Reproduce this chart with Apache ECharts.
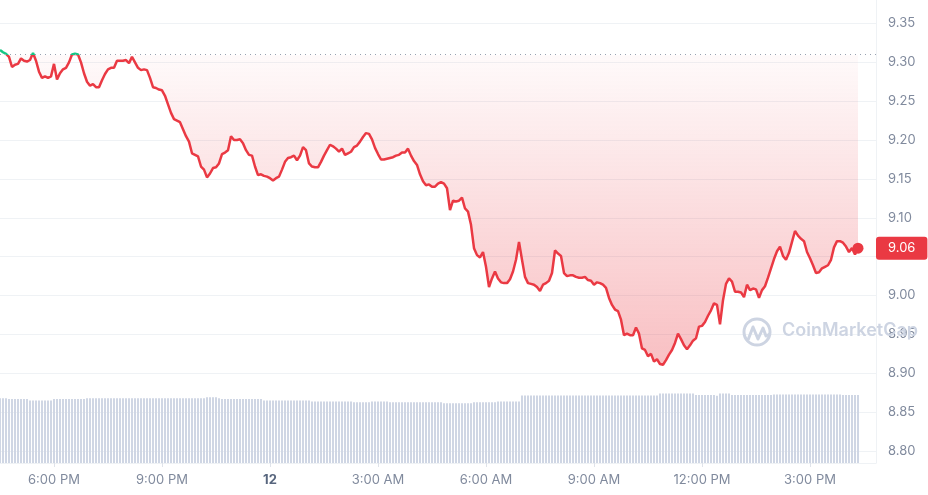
<!DOCTYPE html>
<html>
<head>
<meta charset="utf-8">
<title>24h price</title>
<script src="https://cdn.jsdelivr.net/npm/echarts@6/dist/echarts.min.js"></script>
<style>
  html, body { margin: 0; padding: 0; background: #fff; }
  #chart { width: 928px; height: 495px; }
</style>
</head>
<body>
<div id="chart"></div>
<script>
// price at open, the dotted reference line
const openPrice = 9.3095

// 5 minute closes, 16:30 -> 16:20 next day
const prices = [
  9.316, 9.313, 9.311, 9.307, 9.294, 9.297, 9.298, 9.305, 9.302, 9.301,
  9.303, 9.312, 9.302, 9.288, 9.280, 9.282, 9.280, 9.282, 9.298, 9.278,
  9.286, 9.291, 9.293, 9.300, 9.310, 9.311, 9.310, 9.300, 9.286, 9.275,
  9.270, 9.272, 9.268, 9.268, 9.277, 9.285, 9.291, 9.293, 9.293, 9.302,
  9.302, 9.302, 9.303, 9.299, 9.307, 9.300, 9.293, 9.290, 9.291, 9.290,
  9.280, 9.268, 9.267, 9.265, 9.264, 9.257, 9.246, 9.235, 9.227, 9.225,
  9.223, 9.214, 9.205, 9.198, 9.183, 9.181, 9.179, 9.166, 9.162, 9.152,
  9.157, 9.164, 9.165, 9.170, 9.182, 9.184, 9.187, 9.205, 9.200, 9.200,
  9.201, 9.196, 9.187, 9.181, 9.180, 9.166, 9.155, 9.156, 9.154, 9.153,
  9.151, 9.148, 9.151, 9.153, 9.162, 9.172, 9.177, 9.178, 9.180, 9.174,
  9.180, 9.191, 9.187, 9.170, 9.166, 9.165, 9.165, 9.172, 9.180, 9.187,
  9.194, 9.192, 9.189, 9.185, 9.189, 9.181, 9.183, 9.185, 9.191, 9.193,
  9.198, 9.204, 9.209, 9.208, 9.201, 9.190, 9.182, 9.175, 9.175, 9.176,
  9.177, 9.178, 9.180, 9.181, 9.184, 9.184, 9.189, 9.180, 9.173, 9.168,
  9.156, 9.147, 9.142, 9.143, 9.140, 9.140, 9.144, 9.146, 9.144, 9.138,
  9.110, 9.122, 9.121, 9.122, 9.126, 9.112, 9.108, 9.091, 9.061, 9.052,
  9.049, 9.056, 9.037, 9.011, 9.022, 9.031, 9.022, 9.017, 9.016, 9.016,
  9.021, 9.031, 9.046, 9.069, 9.046, 9.024, 9.016, 9.015, 9.014, 9.011,
  9.006, 9.014, 9.016, 9.019, 9.029, 9.058, 9.054, 9.051, 9.029, 9.025,
  9.026, 9.026, 9.024, 9.023, 9.023, 9.024, 9.020, 9.019, 9.014, 9.017,
  9.016, 9.014, 9.010, 8.997, 8.988, 8.982, 8.980, 8.969, 8.949, 8.951,
  8.949, 8.949, 8.959, 8.951, 8.932, 8.930, 8.922, 8.925, 8.915, 8.918,
  8.912, 8.911, 8.917, 8.924, 8.930, 8.939, 8.951, 8.944, 8.936, 8.931,
  8.936, 8.942, 8.945, 8.960, 8.961, 8.966, 8.974, 8.981, 8.990, 8.988,
  8.963, 8.994, 9.015, 9.022, 9.018, 9.005, 9.005, 9.004, 8.998, 9.014,
  9.007, 9.009, 9.008, 8.997, 9.007, 9.012, 9.023, 9.035, 9.047, 9.057,
  9.063, 9.051, 9.046, 9.055, 9.069, 9.083, 9.077, 9.073, 9.070, 9.056,
  9.048, 9.039, 9.029, 9.030, 9.035, 9.037, 9.039, 9.046, 9.062, 9.070,
  9.070, 9.068, 9.063, 9.056, 9.061, 9.053, 9.061
]

// 24h volume (M), same 5 minute slots
const volumes = [
  140, 140, 140, 138, 138, 138, 138, 138, 138, 138,
  135, 135, 135, 135, 135, 135, 135, 135, 138, 138,
  138, 138, 138, 138, 138, 138, 138, 138, 138, 140,
  140, 140, 140, 140, 140, 140, 140, 140, 140, 140,
  140, 140, 140, 140, 140, 140, 140, 140, 140, 140,
  140, 140, 140, 140, 140, 140, 140, 140, 140, 140,
  140, 140, 140, 140, 140, 140, 140, 140, 140, 142,
  142, 142, 142, 140, 138, 138, 138, 138, 138, 138,
  138, 138, 138, 138, 138, 138, 138, 138, 135, 135,
  135, 135, 135, 135, 135, 135, 135, 135, 135, 135,
  135, 135, 135, 135, 133, 133, 133, 133, 133, 133,
  133, 133, 133, 133, 133, 133, 133, 133, 131, 131,
  131, 131, 131, 131, 133, 133, 133, 133, 133, 133,
  131, 131, 131, 131, 131, 131, 131, 131, 131, 131,
  131, 131, 131, 131, 131, 131, 131, 131, 129, 129,
  129, 129, 129, 129, 129, 129, 129, 129, 131, 131,
  131, 131, 131, 131, 131, 131, 133, 133, 133, 133,
  133, 133, 133, 133, 146, 146, 146, 146, 146, 146,
  146, 146, 146, 146, 146, 146, 146, 146, 146, 146,
  146, 146, 146, 146, 146, 146, 146, 146, 146, 146,
  146, 146, 146, 146, 146, 146, 146, 146, 146, 146,
  146, 146, 146, 146, 146, 146, 146, 146, 146, 146,
  150, 150, 150, 150, 150, 150, 150, 150, 150, 150,
  150, 150, 147, 147, 147, 147, 147, 147, 147, 145,
  150, 150, 150, 150, 147, 147, 147, 147, 147, 147,
  147, 147, 147, 147, 147, 147, 147, 147, 148, 148,
  148, 148, 148, 148, 148, 148, 148, 148, 148, 148,
  148, 148, 148, 148, 148, 148, 148, 148, 148, 148,
  148, 147, 147, 147, 147, 147, 147
]

const tickTimes = ['18:00', '21:00', '00:00', '03:00', '06:00', '09:00', '12:00', '15:00']
const tickLabels = ['6:00 PM', '9:00 PM', '12', '3:00 AM', '6:00 AM', '9:00 AM', '12:00 PM', '3:00 PM']

// x slots: 16:30 day one up to 16:50 day two
const categories = []
const start = new Date(2024, 5, 11, 16, 30)
for (let i = 0; i <= 292; i++) {
  const d = new Date(start.getTime() + i * 5 * 60000)
  const hh = String(d.getHours()).padStart(2, '0')
  const mm = String(d.getMinutes()).padStart(2, '0')
  categories.push(d.getDate() + ' ' + hh + ':' + mm)
}

const isTick = (idx, val) => tickTimes.indexOf(val.slice(-5)) >= 0
const lastIdx = prices.length - 1
const lastPrice = prices[lastIdx]
const red = '#ea3943'
const green = '#16c784'
const font = 'Inter, sans-serif'

const chart = echarts.init(document.getElementById('chart'))
chart.setOption({
  animation: false,
  grid: { left: 0, right: 52, top: 0, bottom: 32 },
  xAxis: {
    type: 'category',
    data: categories,
    boundaryGap: false,
    axisLine: { show: true, lineStyle: { color: '#eff2f5' } },
    axisTick: { show: true, interval: isTick, length: 4, lineStyle: { color: '#dfe3ea' } },
    splitLine: { show: false },
    axisLabel: {
      interval: isTick,
      margin: 11,
      color: '#808a9d',
      fontSize: 13,
      fontFamily: font,
      formatter: val => {
        const t = tickLabels[tickTimes.indexOf(val.slice(-5))]
        return t === '12' ? '{b|12}' : t
      },
      rich: {
        b: { fontWeight: 'bold', color: '#58667e', fontSize: 13, fontFamily: font }
      }
    }
  },
  yAxis: [{
    type: 'value',
    position: 'right',
    min: 8.7846,
    max: 9.3802,
    splitNumber: 12,
    minInterval: 0.05,
    maxInterval: 0.05,
    axisLine: { show: true, lineStyle: { color: '#eff2f5' } },
    axisTick: { show: false },
    splitLine: { show: true, showMinLine: false, showMaxLine: false, lineStyle: { color: '#eff2f5' } },
    axisLabel: {
      margin: 12,
      color: '#808a9d',
      fontSize: 13,
      fontFamily: font,
      showMinLabel: false,
      showMaxLabel: false,
      // the last price tag sits over this spot
      formatter: v => Math.abs(v - lastPrice) < 0.025 ? '' : v.toFixed(2)
    },
    axisPointer: {
      show: true,
      type: 'line',
      value: lastPrice,
      status: 'show',
      snap: false,
      triggerTooltip: false,
      lineStyle: { opacity: 0 },
      label: {
        show: true,
        margin: 0,
        padding: [5, 12, 5, 12],
        backgroundColor: red,
        color: '#fff',
        fontSize: 13,
        fontFamily: font,
        formatter: p => Number(p.value).toFixed(2)
      }
    }
  }, {
    type: 'value',
    show: false,
    min: 0,
    max: 1000,
    splitLine: { show: false }
  }],
  graphic: [
    {
      type: 'circle', z: 100, silent: true,
      shape: { cx: 757, cy: 332, r: 13 },
      style: { fill: 'none', stroke: '#cdd4e2', lineWidth: 3 }
    },
    {
      type: 'polyline', z: 100, silent: true,
      shape: { points: [[748, 340], [753, 327], [758, 339], [763, 328], [766, 336], [770, 334]] },
      style: { fill: 'none', stroke: '#cdd4e2', lineWidth: 3, lineJoin: 'round' }
    },
    {
      type: 'text', z: 100, silent: true,
      left: 782, top: 322,
      style: { text: 'CoinMarketCap', fill: '#cdd4e2', font: '600 18px Inter, sans-serif' }
    }
  ],
  series: [
    {
      name: 'Price',
      type: 'line',
      data: prices,
      z: 3,
      symbol: 'none',
      lineStyle: { width: 2.5, color: red },
      areaStyle: {
        origin: openPrice,
        opacity: 1,
        color: new echarts.graphic.LinearGradient(0, 0, 0, 1, [
          { offset: 0, color: 'rgba(234,57,67,0.02)' },
          { offset: 1, color: 'rgba(234,57,67,0.32)' }
        ])
      },
      markLine: {
        silent: true,
        symbol: 'none',
        label: { show: false },
        lineStyle: { color: '#98a1b0', type: [1, 4], width: 1 },
        data: [{ yAxis: openPrice }]
      }
    },
    {
      name: 'Volume',
      type: 'bar',
      yAxisIndex: 1,
      data: volumes,
      barWidth: 2,
      z: 1,
      itemStyle: { color: '#cfd6e4' }
    },
    {
      name: 'Last',
      type: 'scatter',
      data: [[lastIdx, lastPrice]],
      symbolSize: 11,
      z: 4,
      itemStyle: { color: red, opacity: 1 }
    }
  ]
})

// green above the open, red below: split the stroke at the open price row
const openY = chart.convertToPixel({ yAxisIndex: 0 }, openPrice)
const f = openY / chart.getHeight()
chart.setOption({
  series: [{
    name: 'Price',
    lineStyle: {
      color: new echarts.graphic.LinearGradient(0, 0, 0, chart.getHeight(), [
        { offset: 0, color: green },
        { offset: f, color: green },
        { offset: f, color: red },
        { offset: 1, color: red }
      ], true)
    }
  }]
})
</script>
</body>
</html>
